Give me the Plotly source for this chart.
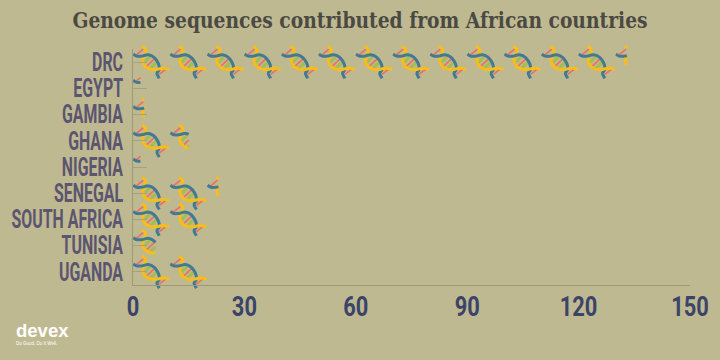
import numpy as np
import plotly.graph_objects as go

countries = ["DRC", "EGYPT", "GAMBIA", "GHANA", "NIGERIA", "SENEGAL", "SOUTH AFRICA", "TUNISIA", "UGANDA"]
sequences = [133, 2, 3, 15, 2, 23, 20, 6, 20]
x_ticks = [0, 30, 60, 90, 120, 150]
UNITS_PER_ICON = 10

# Icon glyph outline, in icon-local units (1 = one icon wide; y: 1 = one row, 0 = row centre)
W, H = 37.2, 26.2
def g(pts):
    return [(px / W, (py - 17) / H) for px, py in pts]

BLUE = g([(0.3, 9), (3.7, 11), (8.7, 11), (15.3, 9.7), (21, 12.3), (25.3, 18.3), (26.3, 24.3), (24, 28.3), (26.3, 33.3)])
YEL_TOP = g([(9.3, 1), (12.7, 5), (11, 10), (9.7, 15), (12, 21), (17.7, 24.3)])
YEL_BOT = g([(17.7, 24.3), (23.7, 24.3), (30.3, 23), (36.3, 24.3)])
RED = [g([(3, 10), (10.3, 4)]), g([(26.3, 29.3), (33, 24)]), g([(13, 21.7), (23, 12.3)])]
GREEN = [g([(11, 17.7), (17, 11.7)]), g([(17, 23.3), (25.3, 15.7)])]

def smooth(pts, n=8):
    p = np.array(pts)
    if len(p) < 3:
        return p
    p2 = np.vstack([2 * p[0] - p[1], p, 2 * p[-1] - p[-2]])
    out = []
    for i in range(1, len(p2) - 2):
        a, b, c, d = p2[i - 1], p2[i], p2[i + 1], p2[i + 2]
        for t in np.linspace(0, 1, n, endpoint=False):
            out.append(0.5 * (2 * b + (c - a) * t + (2 * a - 5 * b + 4 * c - d) * t**2 + (3 * b - a - 3 * c + d) * t**3))
    out.append(p[-1])
    return np.array(out)

def clipped(poly, limit):
    """Split a polyline at x <= limit, return list of x, y with None gaps."""
    xs, ys = [], []
    for i in range(len(poly)):
        x, y = poly[i]
        if x <= limit:
            xs.append(x); ys.append(y)
        elif i > 0 and poly[i - 1][0] <= limit:
            x0, y0 = poly[i - 1]
            t = (limit - x0) / (x - x0)
            xs.append(limit); ys.append(y0 + t * (y - y0))
            xs.append(None); ys.append(None)
        elif i < len(poly) - 1 and poly[i + 1][0] <= limit:
            x1, y1 = poly[i + 1]
            t = (limit - x) / (x1 - x)
            xs.append(limit); ys.append(y + t * (y1 - y))
    xs.append(None); ys.append(None)
    return xs, ys

def layer(shapes):
    X, Y = [], []
    for row, value in enumerate(sequences):
        n = int(np.ceil(value / UNITS_PER_ICON))
        for k in range(n):
            for s in shapes:
                poly = smooth(s) * [UNITS_PER_ICON, 1] + [k * UNITS_PER_ICON, row + 0.5]
                xs, ys = clipped([tuple(q) for q in poly], value)
                X += xs; Y += ys
    return X, Y

fig = go.Figure()
for shapes, color, width in [
    (GREEN, "#a3bd4e", 3),
    (RED, "#ef6f62", 1.7),
    ([YEL_TOP], "#f7bd1a", 3),
    ([BLUE], "#417a92", 3),
    ([YEL_BOT], "#f7bd1a", 3),
]:
    X, Y = layer(shapes)
    fig.add_trace(go.Scatter(x=X, y=Y, mode="lines", cliponaxis=False, hoverinfo="skip",
                             line=dict(color=color, width=width, simplify=False), showlegend=False))

fig.update_layout(
    width=720, height=360,
    paper_bgcolor="#bfb992", plot_bgcolor="#bfb992",
    margin=dict(l=132.5, r=30, t=49, b=75, autoexpand=False),
    title=dict(text="<b>Genome sequences contributed from African countries</b>",
               x=0.5, xanchor="center", xref="container", y=0.944, yanchor="middle",
               font=dict(family="DejaVu Serif", size=22, color="#4b4a42")),
    xaxis=dict(range=[0, 150], tickvals=x_ticks, showgrid=False, zeroline=False, showline=True,
               linecolor="#9d9a78", linewidth=1, ticks="", ticklabelstandoff=-4,
               tickfont=dict(family="Roboto", weight=700, size=28, color="#3b4468")),
    yaxis=dict(range=[len(countries), 0], tickvals=[i + 0.5 for i in range(len(countries))], ticktext=countries,
               showgrid=False, zeroline=False, showline=True, linecolor="#9d9a78", linewidth=1,
               ticks="inside", ticklen=14, tickcolor="#a5a27f", tickwidth=1, ticklabelstandoff=4,
               tickfont=dict(family="Roboto", weight=700, size=25, color="#5b5570")),
    annotations=[
        dict(text="<b>devex</b>", xref="paper", yref="paper", x=-0.2125, y=-0.1907, xanchor="left", yanchor="middle",
             showarrow=False, borderpad=0, font=dict(family="Liberation Sans", size=18.5, color="#ffffff")),
        dict(text="Do Good. Do It Well.", xref="paper", yref="paper", x=-0.2125, y=-0.2479, xanchor="left", yanchor="middle",
             showarrow=False, borderpad=0, font=dict(family="Liberation Sans", size=4.5, color="#ffffff")),
    ],
)
post = """
document.body.style.margin = '0';
function squeeze(sel, f) {
  document.querySelectorAll(sel).forEach(function (t) {
    t.setAttribute('lengthAdjust', 'spacingAndGlyphs');
    t.setAttribute('textLength', t.getComputedTextLength() * f);
  });
}
squeeze('.ytick text', 0.635);
squeeze('.xtick text', 0.78);
var gt = document.querySelector('.gtitle');
gt.setAttribute('transform', 'translate(360,0) scale(0.85,1) translate(-360,0)');
document.querySelectorAll('.cartesianlayer [clip-path]').forEach(function (e) { e.removeAttribute('clip-path'); });
"""
fig.write_html("out.html", post_script=post, config={"displayModeBar": False})
